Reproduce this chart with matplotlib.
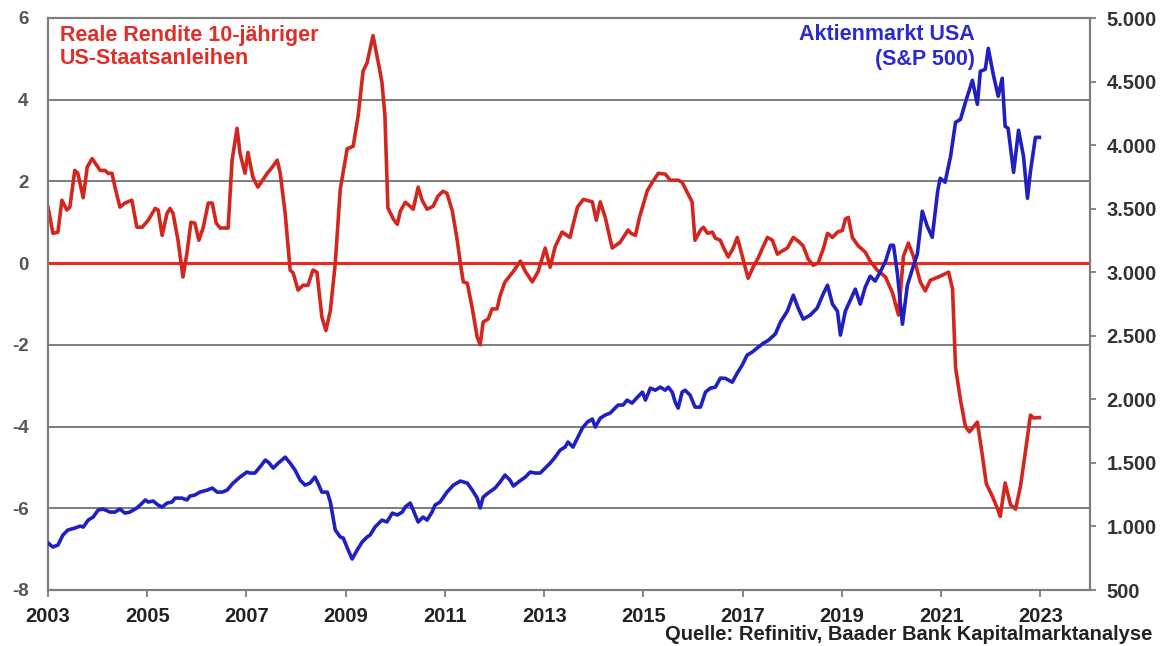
#!/usr/bin/env python3

import matplotlib
matplotlib.use("Agg")
import matplotlib.pyplot as plt
from matplotlib.ticker import FuncFormatter

# Reale Rendite 10-jaehriger US-Staatsanleihen (linke Achse)
yield_years = [
    2003.00, 2003.10, 2003.20, 2003.28, 2003.38, 2003.44, 2003.54, 2003.60, 2003.71, 2003.79,
    2003.89, 2004.05, 2004.15, 2004.21, 2004.29, 2004.35, 2004.45, 2004.55, 2004.69, 2004.79,
    2004.90, 2005.02, 2005.16, 2005.22, 2005.30, 2005.40, 2005.46, 2005.52, 2005.62, 2005.72,
    2005.80, 2005.88, 2005.96, 2006.04, 2006.13, 2006.23, 2006.31, 2006.39, 2006.47, 2006.63,
    2006.71, 2006.81, 2006.87, 2006.97, 2007.03, 2007.13, 2007.23, 2007.42, 2007.52, 2007.62,
    2007.68, 2007.78, 2007.88, 2007.94, 2008.04, 2008.14, 2008.24, 2008.34, 2008.42, 2008.52,
    2008.60, 2008.69, 2008.79, 2008.89, 2009.03, 2009.15, 2009.25, 2009.35, 2009.43, 2009.55,
    2009.65, 2009.73, 2009.79, 2009.85, 2009.96, 2010.04, 2010.10, 2010.20, 2010.30, 2010.36,
    2010.46, 2010.54, 2010.64, 2010.76, 2010.86, 2010.96, 2011.04, 2011.15, 2011.25, 2011.31,
    2011.37, 2011.45, 2011.55, 2011.65, 2011.71, 2011.77, 2011.87, 2011.95, 2012.05, 2012.11,
    2012.21, 2012.27, 2012.38, 2012.52, 2012.62, 2012.76, 2012.88, 2013.02, 2013.12, 2013.22,
    2013.36, 2013.52, 2013.67, 2013.79, 2013.97, 2014.05, 2014.13, 2014.23, 2014.37, 2014.53,
    2014.69, 2014.75, 2014.84, 2014.92, 2015.08, 2015.18, 2015.30, 2015.44, 2015.54, 2015.70,
    2015.78, 2015.88, 2015.98, 2016.04, 2016.15, 2016.21, 2016.29, 2016.39, 2016.45, 2016.55,
    2016.61, 2016.71, 2016.81, 2016.89, 2016.95, 2017.05, 2017.11, 2017.21, 2017.31, 2017.40,
    2017.50, 2017.60, 2017.70, 2017.76, 2017.90, 2018.02, 2018.12, 2018.22, 2018.32, 2018.42,
    2018.52, 2018.63, 2018.71, 2018.81, 2018.91, 2019.01, 2019.07, 2019.13, 2019.21, 2019.33,
    2019.47, 2019.57, 2019.71, 2019.88, 2020.02, 2020.14, 2020.24, 2020.34, 2020.44, 2020.58,
    2020.68, 2020.78, 2020.98, 2021.15, 2021.23, 2021.29, 2021.39, 2021.49, 2021.57, 2021.73,
    2021.83, 2021.91, 2022.03, 2022.13, 2022.19, 2022.29, 2022.40, 2022.50, 2022.60, 2022.70,
    2022.80, 2022.86, 2022.98,
]
real_yield = [
    1.37, 0.73, 0.76, 1.54, 1.30, 1.37, 2.27, 2.20, 1.60, 2.35,
    2.56, 2.27, 2.27, 2.20, 2.20, 1.86, 1.37, 1.47, 1.54, 0.88,
    0.88, 1.05, 1.34, 1.30, 0.68, 1.22, 1.34, 1.22, 0.56, -0.34,
    0.24, 1.00, 0.98, 0.56, 0.88, 1.47, 1.47, 0.98, 0.86, 0.86,
    2.52, 3.30, 2.69, 2.20, 2.71, 2.10, 1.86, 2.20, 2.35, 2.52,
    2.20, 1.22, -0.17, -0.24, -0.66, -0.54, -0.54, -0.17, -0.22, -1.32,
    -1.65, -1.17, 0.00, 1.81, 2.80, 2.86, 3.60, 4.70, 4.90, 5.57,
    4.95, 4.43, 3.62, 1.35, 1.08, 0.95, 1.27, 1.49, 1.39, 1.32,
    1.86, 1.54, 1.32, 1.39, 1.64, 1.76, 1.71, 1.27, 0.54, 0.00,
    -0.46, -0.49, -1.10, -1.81, -2.00, -1.44, -1.37, -1.12, -1.12, -0.80,
    -0.46, -0.37, -0.20, 0.05, -0.20, -0.46, -0.20, 0.37, -0.10, 0.40,
    0.76, 0.63, 1.37, 1.56, 1.50, 1.05, 1.50, 1.12, 0.37, 0.51,
    0.81, 0.73, 0.68, 1.12, 1.78, 1.98, 2.20, 2.18, 2.03, 2.03,
    1.98, 1.74, 1.50, 0.56, 0.81, 0.88, 0.73, 0.76, 0.61, 0.56,
    0.39, 0.15, 0.37, 0.63, 0.37, -0.10, -0.37, -0.10, 0.12, 0.37,
    0.63, 0.56, 0.22, 0.27, 0.37, 0.63, 0.54, 0.42, 0.10, -0.05,
    0.00, 0.37, 0.73, 0.63, 0.76, 0.80, 1.08, 1.12, 0.63, 0.42,
    0.27, 0.05, -0.17, -0.34, -0.73, -1.27, 0.17, 0.49, 0.17, -0.46,
    -0.68, -0.42, -0.32, -0.22, -0.63, -2.55, -3.35, -4.00, -4.13, -3.89,
    -4.70, -5.40, -5.70, -5.99, -6.20, -5.38, -5.92, -6.02, -5.45, -4.60,
    -3.72, -3.79, -3.78,
]

# Aktienmarkt USA, S&P 500 (rechte Achse)
spx_years = [
    2003.00, 2003.10, 2003.20, 2003.30, 2003.40, 2003.54, 2003.65, 2003.71, 2003.81, 2003.91,
    2004.01, 2004.11, 2004.25, 2004.35, 2004.45, 2004.55, 2004.65, 2004.79, 2004.90, 2004.96,
    2005.02, 2005.12, 2005.22, 2005.30, 2005.40, 2005.50, 2005.56, 2005.70, 2005.80, 2005.86,
    2005.96, 2006.06, 2006.21, 2006.31, 2006.41, 2006.51, 2006.61, 2006.73, 2006.87, 2007.01,
    2007.07, 2007.17, 2007.27, 2007.38, 2007.44, 2007.54, 2007.64, 2007.78, 2007.88, 2007.98,
    2008.08, 2008.18, 2008.28, 2008.38, 2008.44, 2008.52, 2008.63, 2008.69, 2008.79, 2008.89,
    2008.95, 2009.05, 2009.13, 2009.23, 2009.33, 2009.43, 2009.49, 2009.59, 2009.73, 2009.83,
    2009.94, 2010.04, 2010.14, 2010.20, 2010.30, 2010.36, 2010.46, 2010.56, 2010.64, 2010.74,
    2010.80, 2010.90, 2011.04, 2011.17, 2011.31, 2011.45, 2011.55, 2011.65, 2011.71, 2011.77,
    2011.87, 2012.01, 2012.11, 2012.21, 2012.31, 2012.38, 2012.48, 2012.62, 2012.72, 2012.82,
    2012.92, 2013.02, 2013.12, 2013.22, 2013.32, 2013.42, 2013.48, 2013.58, 2013.67, 2013.77,
    2013.87, 2013.97, 2014.03, 2014.13, 2014.23, 2014.33, 2014.43, 2014.49, 2014.59, 2014.67,
    2014.77, 2014.88, 2014.98, 2015.04, 2015.14, 2015.24, 2015.34, 2015.44, 2015.50, 2015.58,
    2015.64, 2015.70, 2015.78, 2015.84, 2015.94, 2016.04, 2016.15, 2016.25, 2016.35, 2016.45,
    2016.55, 2016.65, 2016.79, 2016.89, 2016.99, 2017.09, 2017.19, 2017.29, 2017.42, 2017.52,
    2017.66, 2017.76, 2017.90, 2018.02, 2018.12, 2018.22, 2018.36, 2018.50, 2018.63, 2018.71,
    2018.81, 2018.91, 2018.97, 2019.07, 2019.17, 2019.27, 2019.37, 2019.47, 2019.57, 2019.67,
    2019.77, 2019.88, 2019.98, 2020.04, 2020.12, 2020.22, 2020.32, 2020.42, 2020.52, 2020.62,
    2020.72, 2020.82, 2020.93, 2020.98, 2021.08, 2021.19, 2021.29, 2021.39, 2021.49, 2021.63,
    2021.73, 2021.79, 2021.89, 2021.95, 2022.05, 2022.15, 2022.23, 2022.29, 2022.35, 2022.46,
    2022.56, 2022.66, 2022.74, 2022.80, 2022.90, 2022.98,
]
spx = [
    870, 838, 854, 932, 972, 987, 1003, 995, 1050, 1074,
    1129, 1137, 1113, 1113, 1137, 1105, 1113, 1145, 1184, 1208,
    1192, 1200, 1168, 1153, 1184, 1192, 1223, 1223, 1208, 1239,
    1247, 1270, 1286, 1302, 1270, 1270, 1286, 1341, 1389, 1428,
    1420, 1420, 1467, 1522, 1506, 1459, 1498, 1545, 1498, 1443,
    1365, 1325, 1341, 1389, 1341, 1270, 1270, 1192, 972, 917,
    909, 814, 744, 814, 877, 917, 932, 995, 1050, 1035,
    1105, 1090, 1113, 1153, 1184, 1129, 1035, 1074, 1050, 1113,
    1168, 1192, 1270, 1325, 1357, 1341, 1286, 1223, 1145, 1231,
    1263, 1302, 1349, 1404, 1365, 1318, 1349, 1389, 1428, 1420,
    1420, 1459, 1498, 1545, 1600, 1624, 1664, 1624, 1695, 1774,
    1821, 1845, 1782, 1852, 1876, 1892, 1931, 1955, 1955, 1994,
    1970, 2017, 2057, 1994, 2088, 2072, 2096, 2072, 2096, 2057,
    1978, 1931, 2057, 2072, 2033, 1939, 1939, 2057, 2088, 2096,
    2167, 2165, 2135, 2206, 2269, 2348, 2371, 2403, 2442, 2465,
    2515, 2607, 2694, 2819, 2717, 2631, 2662, 2717, 2835, 2898,
    2749, 2694, 2505, 2694, 2780, 2867, 2749, 2882, 2969, 2930,
    3000, 3087, 3212, 3212, 2984, 2591, 2898, 3024, 3142, 3480,
    3362, 3275, 3637, 3739, 3708, 3912, 4179, 4203, 4337, 4510,
    4321, 4581, 4596, 4761, 4557, 4384, 4526, 4148, 4132, 3786,
    4117, 3912, 3582, 3794, 4061, 4061,
]

x_ticks = list(range(2003, 2024, 2))
left_ticks = [-8, -6, -4, -2, 0, 2, 4, 6]
right_ticks = [500, 1000, 1500, 2000, 2500, 3000, 3500, 4000, 4500, 5000]

RED = "#d2261f"
ZERO_RED = "#ec2a22"
BLUE = "#2020c0"
GRID = "#7d7d7d"

plt.rcParams["font.family"] = ["Liberation Sans", "DejaVu Sans"]
plt.rcParams["font.weight"] = "bold"
plt.rcParams["axes.unicode_minus"] = False

fig = plt.figure(figsize=(11.71, 6.46), dpi=100)
ax = fig.add_axes([48 / 1171, 1 - 590 / 646, (1090 - 48) / 1171, (590 - 18) / 646])
ax2 = ax.twinx()

# linke Achse: Realrendite
ax.set_xlim(2003, 2024)
ax.set_ylim(-8, 6)
ax.set_yticks(left_ticks)
ax.set_xticks(x_ticks)
for v in left_ticks:
    if v not in (0, -8):
        ax.axhline(v, color=GRID, lw=1.4, zorder=1)
ax.axhline(0, color=ZERO_RED, lw=2.2, zorder=2)
ax.plot(yield_years, real_yield, color=RED, lw=2.6, zorder=3, solid_joinstyle="round")

# rechte Achse: S&P 500
ax2.set_ylim(500, 5000)
ax2.set_yticks(right_ticks)
ax2.yaxis.set_major_formatter(FuncFormatter(lambda v, p: f"{int(v):,}".replace(",", ".")))
ax2.plot(spx_years, spx, color=BLUE, lw=2.6, zorder=3, solid_joinstyle="round")

for a in (ax, ax2):
    for s in a.spines.values():
        s.set_color(GRID)
        s.set_linewidth(1.5)

ax.tick_params(axis="y", length=0, pad=14, labelsize=13.5, labelcolor="#555555")
ax.tick_params(axis="x", length=5, width=1.3, color=GRID, pad=7, labelsize=14.5,
               labelcolor="#222222")
ax2.tick_params(axis="y", length=4, width=1.3, color=GRID, pad=8, labelsize=14.5,
                labelcolor="#333333")

# Beschriftungen
ax.text(60 / 1171, 1 - 47 / 646, "Reale Rendite 10-jähriger\nUS-Staatsanleihen",
        transform=fig.transFigure, color="#e02e28", fontsize=15.5, fontweight="bold",
        ha="left", va="center", linespacing=1.1)
ax.text(975 / 1171, 1 - 47 / 646, "Aktienmarkt USA\n(S&P 500)",
        transform=fig.transFigure, color="#2a2ad0", fontsize=15.5, fontweight="bold",
        ha="right", va="center", linespacing=1.2, multialignment="right")
fig.text(1152 / 1171, 1 - 635 / 646, "Quelle: Refinitiv, Baader Bank Kapitalmarktanalyse",
         color="#222222", fontsize=14.5, fontweight="bold", ha="right", va="center")

fig.savefig("out.png", dpi=100)
